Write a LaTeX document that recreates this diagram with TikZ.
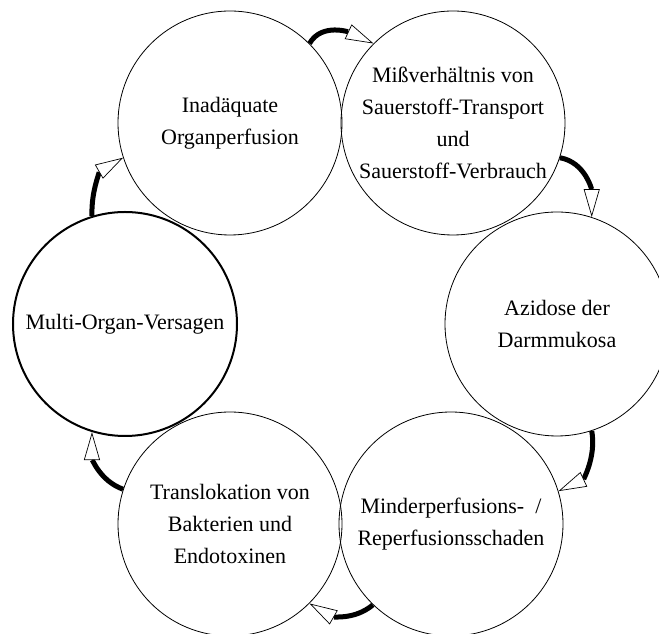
\documentclass[tikz,border=0pt]{standalone}
\usepackage{fontspec}
\setmainfont{Liberation Serif}
\usetikzlibrary{arrows.meta}
\begin{document}
\begin{tikzpicture}[x=1pt,y=1pt,
  ring/.style={circle,draw,line width=0.8pt,minimum size=224pt,inner sep=0pt},
  ringthick/.style={ring,line width=2pt},
  label/.style={align=center,font=\fontsize{22pt}{32pt}\selectfont,inner sep=0pt},
  cyc/.style={line width=5pt,-{Triangle[length=28pt,width=16pt,fill=white,line width=0.7pt]}}
]
\useasboundingbox (0,0) rectangle (659,634);
\node[ring] (c1) at (230,511) {};
\node[ring] (c2) at (453,511) {};
\node[ring] (c3) at (557,310) {};
\node[ring] (c4) at (451,110) {};
\node[ring] (c5) at (230,110) {};
\node[ringthick] (c6) at (125,310) {};
\node[label] (t1) at (c1) {Inadäquate\\Organperfusion};
\node[label] (t2) at (c2) {Mißverhältnis von\\Sauerstoff-Transport\\und\\Sauerstoff-Verbrauch};
\node[label] (t3) at (c3) {Azidose der\\Darmmukosa};
\node[label] (t4) at (c4) {Minderperfusions-~~/\\Reperfusionsschaden};
\node[label] (t5) at (c5) {Translokation von\\Bakterien und\\Endotoxinen};
\node[label] (t6) at (c6) {Multi-Organ-Versagen};
\draw[cyc] (c1.45) to[out=60,in=155] (c2.135);
\draw[cyc] (c2.-18) to[out=-10,in=90] (c3.72);
\draw[cyc] (c3.-72) to[out=-80,in=25] (c4.17);
\draw[cyc] (c4.-134) to[out=-140,in=-30] (c5.-45);
\draw[cyc] (c5.162) to[out=160,in=-90] (c6.-107);
\draw[cyc] (c6.107) to[out=92,in=-150] (c1.-162);
\end{tikzpicture}
\end{document}
